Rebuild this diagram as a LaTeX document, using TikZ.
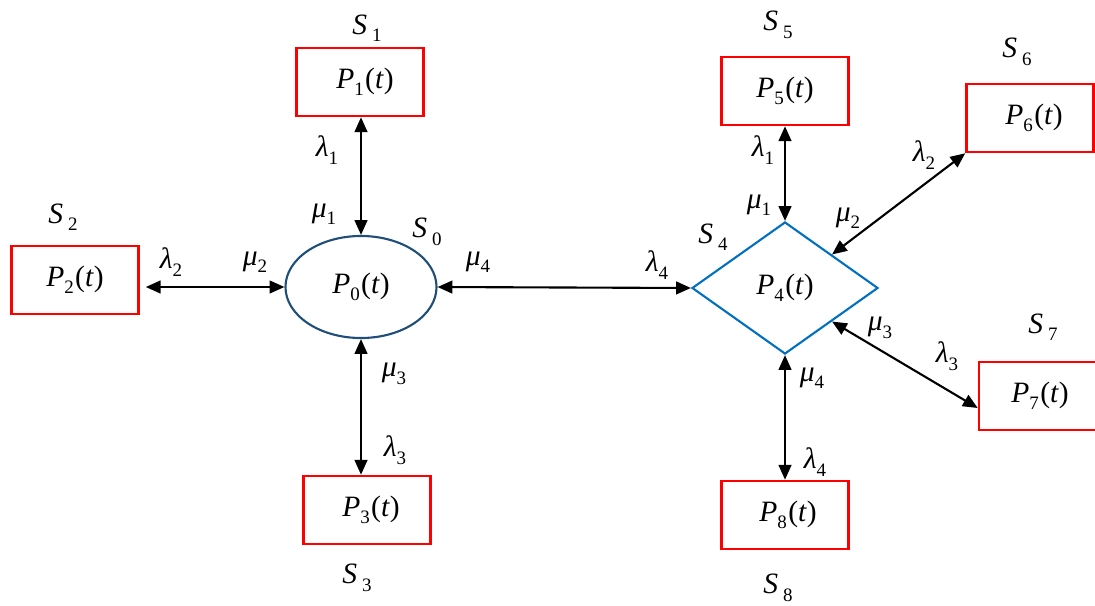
\documentclass[tikz,border=0pt]{standalone}
\usepackage{fontspec}
\setmainfont{Liberation Serif}
\usetikzlibrary{shapes.geometric,arrows.meta}
\newcommand{\lowsub}[1]{\raisebox{-0.55ex}{\fontsize{13.5}{14}\selectfont #1}}
\newcommand{\prob}[1]{\textit{P}\lowsub{#1}\kern1pt(\textit{t})}
\newcommand{\lam}[1]{\textit{λ}\lowsub{#1}}
\newcommand{\mmu}[1]{\textit{μ}\lowsub{#1}}
\newcommand{\st}[1]{\textit{S}\,\lowsub{#1}}
\tikzset{
  statebox/.style={draw=red, line width=1.8pt, minimum width=3.175cm, minimum height=1.7cm},
  link/.style={{Triangle[length=10.5pt,width=9pt]}-{Triangle[length=10.5pt,width=9pt]}, line width=1.5pt},
  every node/.style={font=\fontsize{21}{23}\selectfont}
}
\begin{document}
\begin{tikzpicture}[x=0.025cm,y=-0.025cm]
\useasboundingbox (0,0) rectangle (1095,605);
% central states
\node[ellipse, draw={rgb,255:red,31;green,78;blue,121}, line width=1.5pt,
  minimum width=3.775cm, minimum height=2.55cm, inner sep=0pt] (p0) at (361,287) {\prob{0}};
\node[diamond, draw={rgb,255:red,0;green,112;blue,192}, line width=1.5pt, aspect=1.41,
  minimum width=4.65cm, minimum height=3.3cm, inner sep=0pt] (p4) at (785,288) {\prob{4}};
% outer states
\node[statebox] (p1) at (360,82) {\hspace{0.25cm}\prob{1}};
\node[statebox] (p2) at (75,280) {\prob{2}};
\node[statebox] (p3) at (367,510) {\hspace{0.2cm}\prob{3}};
\node[statebox] (p5) at (785,91) {\prob{5}};
\node[statebox] (p6) at (1030,118) {\hspace{0.2cm}\prob{6}};
\node[statebox, minimum width=3.05cm] (p7) at (1040,396) {\prob{7}};
\node[statebox] (p8) at (785,515) {\hspace{0.15cm}\prob{8}};
% state names
\node (s0) at (427,232) {\st{0}};
\node (s1) at (367,28) {\st{1}};
\node (s2) at (63,217) {\st{2}};
\node (s3) at (357,578) {\st{3}};
\node (s4) at (713,237) {\st{4}};
\node (s5) at (778,25) {\st{5}};
\node (s6) at (1017,52) {\st{6}};
\node (s7) at (1043,327) {\st{7}};
\node (s8) at (778,588) {\st{8}};
% transitions
\draw[link] (p0.north) -- (p0.north |- p1.south);
\draw[link] (p0.west) -- ([xshift=0.15cm]p0.west -| p2.east);
\draw[link] (p0.south) -- (p0.south |- p3.north);
\draw[link] (p0.east) -- (p4.west);
\draw[link] (p4.north) -- (p5.south);
\draw[link] (p4.north east) -- (p6.south west);
\draw[link] (p4.south east) -- ([yshift=-0.3cm]p7.west);
\draw[link] (p4.south) -- (p8.north);
% rates
\node (l1a) at (327,150) {\lam{1}};
\node (m1a) at (324,214) {\mmu{1}};
\node (l2a) at (171,262) {\lam{2}};
\node (m2a) at (255,262) {\mmu{2}};
\node (m3a) at (394,374) {\mmu{3}};
\node (l3a) at (395,450) {\lam{3}};
\node (m4a) at (478,262) {\mmu{4}};
\node (l4a) at (657,265) {\lam{4}};
\node (l1b) at (763,150) {\lam{1}};
\node (m1b) at (759,205) {\mmu{1}};
\node (l2b) at (924,155) {\lam{2}};
\node (m2b) at (848,218) {\mmu{2}};
\node (m3b) at (880,328) {\mmu{3}};
\node (l3b) at (947,356) {\lam{3}};
\node (m4b) at (812,378) {\mmu{4}};
\node (l4b) at (815,462) {\lam{4}};
\end{tikzpicture}
\end{document}
